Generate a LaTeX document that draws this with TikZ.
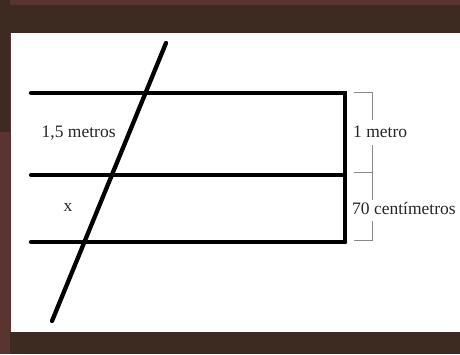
\documentclass[tikz,border=0pt]{standalone}
\usepackage{fontspec}
\setmainfont{Liberation Serif}
\definecolor{darkbrown}{HTML}{3D2B22}
\definecolor{redbrown}{HTML}{5A3431}
\definecolor{bracketgray}{HTML}{8A8A8A}
\definecolor{textgray}{HTML}{262626}
\begin{document}
\begin{tikzpicture}[x=1pt,y=-1pt,
  thick line/.style={line width=4.3pt,line cap=round,black},
  bracket/.style={line width=1pt,bracketgray},
  lbl/.style={inner sep=0pt,anchor=base west,text=textgray,font=\fontsize{17.5}{20}\selectfont}]
\useasboundingbox (0,0) rectangle (460,354);
% frame
\fill[white] (0,0) rectangle (460,354);
\fill[redbrown] (0,0) rectangle (460,5);
\fill[darkbrown] (0,5) rectangle (460,33);
\fill[darkbrown] (0,0) rectangle (10,132);
\fill[redbrown] (0,132) rectangle (10,354);
\fill[redbrown] (10,33) rectangle (11,332);
\fill[darkbrown] (10,332) rectangle (460,354);
% coordinates
\coordinate (t1) at (31,93);
\coordinate (t2) at (345,93);
\coordinate (m1) at (31,175);
\coordinate (m2) at (345,175);
\coordinate (b1) at (31,242);
\coordinate (b2) at (345,242);
\coordinate (s1) at (166,43);
\coordinate (s2) at (52,321);
% lines
\draw[thick line] (t1) -- (t2) -- (b2);
\draw[thick line] (m1) -- (m2);
\draw[thick line] (b1) -- (b2);
\draw[thick line] (s1) -- (s2);
% labels
\node[lbl] (l15) at (41.5,137) {1,5 metros};
\node[lbl] (lx) at (63.5,211) {x};
\node[lbl] (l1m) at (353,137) {1 metro};
\node[lbl] (l70) at (352,214) {70 centímetros};
% brackets
\draw[bracket] (354,92) -- (372.5,92) -- (372.5,120);
\draw[bracket] (372.5,145) -- (372.5,200);
\draw[bracket] (354,172) -- (372.5,172);
\draw[bracket] (372.5,221) -- (372.5,240) -- (354,240);
\end{tikzpicture}
\end{document}
